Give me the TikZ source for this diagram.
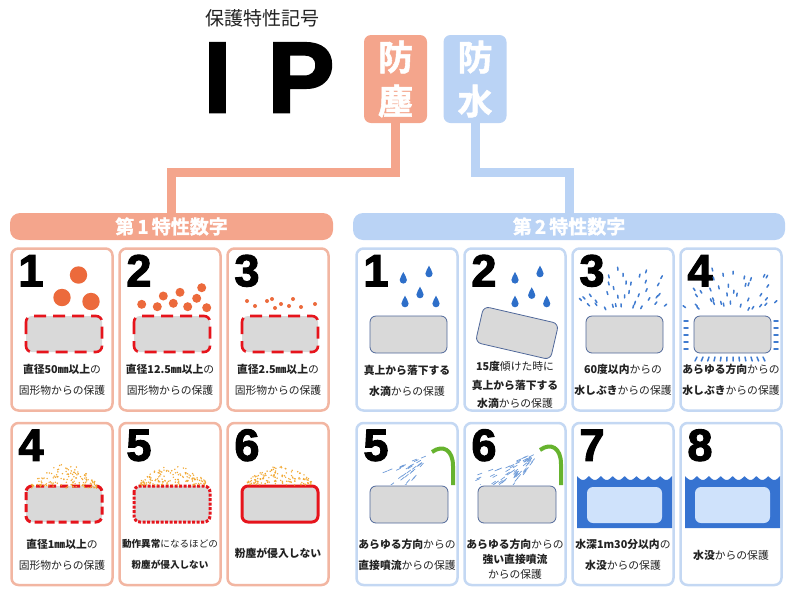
\documentclass[tikz,border=0pt]{standalone}
\usepackage{fontspec}
\setmainfont{Noto Sans CJK JP}
\newfontfamily\heavyjp{Noto Sans CJK JP Bold}[FakeBold=1.5]
\newfontfamily\heavylat{Liberation Sans Bold}[FakeBold=2.5]
\usetikzlibrary{positioning,calc}

\definecolor{dustpink}{RGB}{244,165,140}
\definecolor{dustedge}{RGB}{242,182,162}
\definecolor{waterpale}{RGB}{186,211,245}
\definecolor{wateredge}{RGB}{196,216,243}
\definecolor{ballred}{RGB}{236,106,60}
\definecolor{guardred}{RGB}{230,20,28}
\definecolor{casegrey}{RGB}{217,217,217}
\definecolor{caseline}{RGB}{80,104,154}
\definecolor{dropblue}{RGB}{46,111,201}
\definecolor{sprayblue}{RGB}{63,123,208}
\definecolor{jetblue}{RGB}{110,155,216}
\definecolor{hosegreen}{RGB}{102,179,46}
\definecolor{seablue}{RGB}{54,115,209}
\definecolor{poolblue}{RGB}{207,226,251}
\definecolor{dustgold}{RGB}{242,168,50}
\definecolor{inktext}{RGB}{34,34,34}

\begin{document}
\begin{tikzpicture}[x=1pt,y=-1pt,
  dustcard/.style={draw=dustedge,line width=2.5pt,rounded corners=7pt,fill=white,minimum width=101pt,minimum height=162pt},
  watercard/.style={draw=wateredge,line width=2.5pt,rounded corners=7pt,fill=white,minimum width=101pt,minimum height=162pt},
  bignum/.style={anchor=base west,inner sep=0pt,font=\heavylat\fontsize{45}{45}\selectfont},
  iplabel/.style={anchor=base,inner sep=0pt,font=\heavylat\fontsize{100}{100}\selectfont},
  caption/.style={align=center,inner sep=0pt,text=inktext,font=\fontsize{10.8}{21}\selectfont},
  headbox/.style={rounded corners=7pt,minimum width=63pt,minimum height=88pt,text=white,align=center,font=\heavyjp\fontsize{35}{44}\selectfont},
  bar/.style={rounded corners=10pt,minimum height=27pt,text=white,font=\heavyjp\fontsize{19}{19}\selectfont},
  link/.style={line width=9pt},
  dustcase/.style={fill=casegrey,draw=guardred,line width=2.6pt,rounded corners=6pt},
  watercase/.style={fill=casegrey,draw=caseline,line width=0.8pt,rounded corners=6pt},
  spraydash/.style={sprayblue,line width=1.5pt,line cap=round},
  jet/.style={jetblue,line width=0.7pt},
  hose/.style={hosegreen,line width=4pt}]
\useasboundingbox (0,0) rectangle (800,600);
\pgfmathsetseed{11}

% heading
\node[font=\fontsize{19}{19}\selectfont,text=inktext] (title) at (262.5,18.5) {保護特性記号};
\node[iplabel] (letterI) at (217.5,112) {I};
\node[iplabel] (letterP) at (301,112) {P};
\node[headbox,fill=dustpink] (dustbox) at (395.5,79) {防\\塵};
\node[headbox,fill=waterpale] (waterbox) at (475,79) {防\\水};

% bars and links
\node[bar,fill=dustpink,minimum width=323pt] (dustbar) at (171.5,226.5) {第\,1\,特性数字};
\node[bar,fill=waterpale,minimum width=432pt] (waterbar) at (569,226.5) {第\,2\,特性数字};
\coordinate (elbow) at (0,172);
\draw[link,dustpink] (dustbox.south) -- (dustbox.south |- elbow) -| (dustbar.north);
\draw[link,waterpale] (waterbox.south) -- (waterbox.south |- elbow) -| (waterbar.north);

% cards
\foreach \n/\cx/\cy in {1/62/329.5,2/170/329.5,3/278/329.5,4/62/504,5/170/504,6/278/504}
  \node[dustcard] (dust\n) at (\cx,\cy) {};
\foreach \n/\cx/\cy in {1/407/329.5,2/515/329.5,3/623/329.5,4/731/329.5,5/407/504,6/515/504,7/623/504,8/731/504}
  \node[watercard] (water\n) at (\cx,\cy) {};
\foreach \n in {1,...,6}
  \node[bignum] (dustnum\n) at ($(dust\n.north west)+(8,39)$) {\n};
\foreach \n in {1,...,8}
  \node[bignum] (waternum\n) at ($(water\n.north west)+(8,39)$) {\n};

% solid objects
\foreach \n in {1,2,3}
  \draw[dustcase,dash pattern=on 12pt off 7pt] ($(dust\n.center)+(-36,-13.5)$) rectangle ++(76,36);
\draw[dustcase,line width=3pt,dash pattern=on 8pt off 4pt] ($(dust4.center)+(-36,-18)$) rectangle ++(76,36);
\draw[dustcase,line width=3pt,dash pattern=on 3pt off 1.5pt] ($(dust5.center)+(-36,-18)$) rectangle ++(76,36);
\draw[dustcase,line width=3pt] ($(dust6.center)+(-36,-18)$) rectangle ++(76,36);
\fill[ballred] (78.5,275) circle (8.7) (62,297.5) circle (8.7) (91,301.5) circle (8.7);
\foreach \bx/\by in {141.7/304.3,157.3/306.7,163.3/296,173.3/303.3,180/292.3,187.7/306.7,196.7/298.3,201.7/287.7,206.7/307.7}
  \fill[ballred] (\bx,\by) circle (4.5);
\foreach \bx/\by in {247/301,255/306,267/301,272/299,275/308,281/304,289/306,293/299,301/307,315/304}
  \fill[ballred] (\bx,\by) circle (2);
\foreach \cx/\baseY/\hgt in {64.5/488/22,173/485/17,279.5/485/17}
  \foreach \i in {1,...,140} {
    \pgfmathsetmacro\dx{rand*33}
    \pgfmathsetmacro\dy{rnd*(2+\hgt*(1-(\dx/34)^2))}
    \fill[dustgold] ({\cx+(\dx)},{\baseY-(\dy)}) circle (0.8);
  }

% water: drops
\foreach \n in {1,3,4}
  \draw[watercase] ($(water\n.center)+(-37,-13.5)$) rectangle ++(77,37);
\draw[watercase,rotate around={-13:(517,333)}] (478.5,314.5) rectangle (555.5,351.5);
\foreach \n in {5,6}
  \draw[watercase] ($(water\n.center)+(-37,-18)$) rectangle ++(78,37);
\foreach \dx/\dy in {403.3/280,429/273.7,420/294.7,405/303.7,436/303.7,515/280,540/273.7,531.7/295.3,515/303.7,546.7/303.7}
  \fill[dropblue] (\dx,\dy-8) .. controls (\dx+1.2,\dy-5) and (\dx+3.6,\dy-2.5) .. (\dx+3.6,\dy)
    arc[start angle=0,end angle=180,radius=3.6] .. controls (\dx-3.6,\dy-2.5) and (\dx-1.2,\dy-5) .. cycle;

% water: spray
\foreach \ox in {623,731}
  \foreach \a in {38,48,...,142}
    \foreach \rad in {30,39,...,78} {
      \pgfmathsetmacro\b{-\a+7*rand}
      \pgfmathsetmacro\rr{\rad+3*rand}
      \pgfmathsetmacro\px{\ox+\rr*cos(\b)}
      \pgfmathsetmacro\py{343+\rr*sin(\b)}
      \pgfmathtruncatemacro\keep{and(and(\py<312,\py>270),and(or(\py>288,\px>\ox-20),and(\px>\ox-48,\px<\ox+46)))}
      \ifnum\keep=1 \draw[spraydash] (\px,\py) -- ++(\b:3); \fi
    }
\foreach \yy in {321,328,...,349} {
  \draw[spraydash] (684,\yy) -- (688,\yy);
  \draw[spraydash] (774,\yy) -- (778,\yy);
}
\foreach \xx in {697,703,...,765} {
  \pgfmathsetmacro\tilt{(\xx-731)*0.06}
  \draw[spraydash] (\xx,357) -- ({\xx+\tilt},361);
}

% water: jets
\begin{scope}
\clip (360,440) rectangle (565,484);
\foreach \hx/\hy/\num/\reach in {433/453/36/44,541/451/72/62}
  \foreach \i in {1,...,\num} {
    \pgfmathsetmacro\ang{143+rand*17}
    \pgfmathsetmacro\dist{7+rnd*\reach}
    \pgfmathsetmacro\far{\dist+5}
    \draw[jet] ($(\hx,\hy)+(\ang:\dist)$) -- ($(\hx,\hy)+(\ang:\far)$);
  }
\end{scope}
\draw[hose] (432,452) .. controls (443,444) and (453,450) .. (453,466) -- (453,485);
\draw[hose] (540,450) .. controls (551,442) and (561,448) .. (561,464) -- (561,485);

% water: immersion
\foreach \wl/\wr in {577/672,685/780} {
  \fill[seablue] (\wl,528) -- (\wl,476) -- plot[domain=\wl:\wr,samples=120] (\x,{476+4*abs(sin((\x-\wl)*15.13))}) -- (\wr,528) -- cycle;
  \fill[poolblue,rounded corners=6pt] ({\wl+10},487) rectangle ({\wr-10},523);
}

% captions
\node[caption] (dusttext1) at ($(dust1.north)+(0,132.5)$) {\textbf{直径50㎜以上}の\\固形物からの保護};
\node[caption] (dusttext2) at ($(dust2.north)+(0,132.5)$) {\textbf{直径12.5㎜以上}の\\固形物からの保護};
\node[caption] (dusttext3) at ($(dust3.north)+(0,132.5)$) {\textbf{直径2.5㎜以上}の\\固形物からの保護};
\node[caption] (dusttext4) at ($(dust4.north)+(0,133)$) {\textbf{直径1㎜以上}の\\固形物からの保護};
\node[caption,font=\fontsize{9.6}{21}\selectfont] (dusttext5) at ($(dust5.north)+(0,133)$) {\textbf{動作異常}になるほどの\\\textbf{粉塵が侵入しない}};
\node[caption] (dusttext6) at ($(dust6.north)+(0,132)$) {\textbf{粉塵が侵入しない}};
\node[caption] (watertext1) at ($(water1.north)+(0,134)$) {\textbf{真上から落下する}\\\textbf{水滴}からの保護};
\node[caption,font=\fontsize{10.8}{18.5}\selectfont] (watertext2) at ($(water2.north)+(0,138)$) {\textbf{15度}傾けた時に\\\textbf{真上から落下する}\\\textbf{水滴}からの保護};
\node[caption] (watertext3) at ($(water3.north)+(0,133)$) {\textbf{60度以内}からの\\\textbf{水しぶき}からの保護};
\node[caption] (watertext4) at ($(water4.north)+(0,133)$) {\textbf{あらゆる方向}からの\\\textbf{水しぶき}からの保護};
\node[caption] (watertext5) at ($(water5.north)+(0,133)$) {\textbf{あらゆる方向}からの\\\textbf{直接噴流}からの保護};
\node[caption,font=\fontsize{10.8}{15}\selectfont] (watertext6) at ($(water6.north)+(0,138)$) {\textbf{あらゆる方向}からの\\\textbf{強い直接噴流}\\からの保護};
\node[caption] (watertext7) at ($(water7.north)+(0,133)$) {\textbf{水深1m30分以内}の\\\textbf{水没}からの保護};
\node[caption] (watertext8) at ($(water8.north)+(0,134)$) {\textbf{水没}からの保護};
\end{tikzpicture}
\end{document}
